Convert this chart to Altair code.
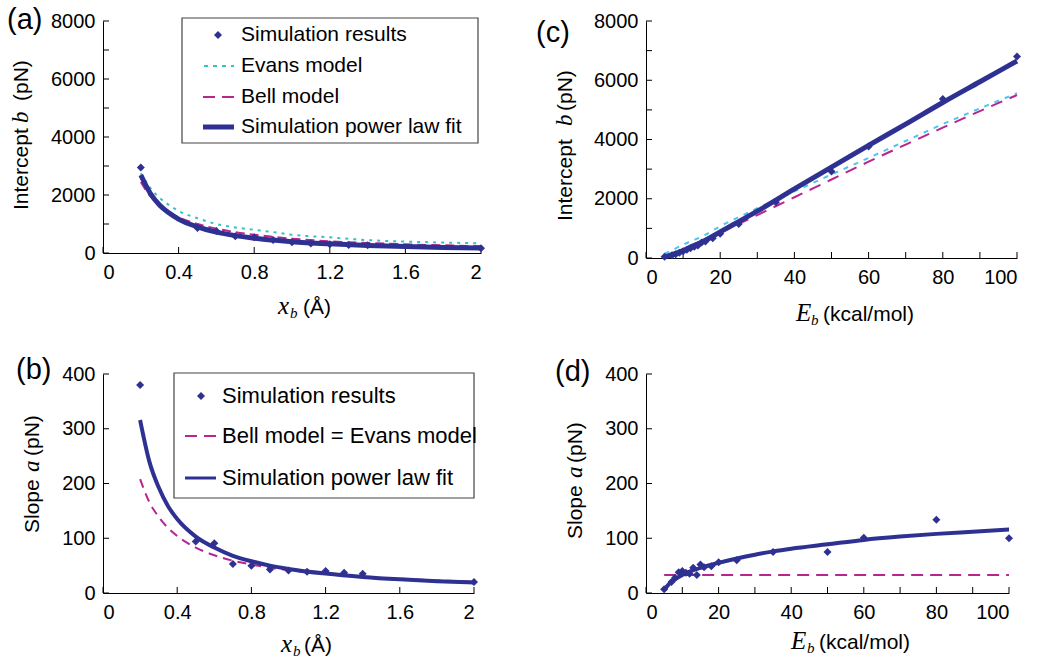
import altair as alt
import pandas as pd

# ---------------- data ----------------
# Panel (a): intercept b vs x_b
XB_SIM = [0.2, 0.5, 0.6, 0.7, 0.8, 0.9, 1.0, 1.1, 1.2, 1.3, 1.4, 2.0]
B_SIM_A = [2950, 860, 760, 580, 540, 450, 370, 330, 300, 280, 265, 165]
XB_CURVE = [0.2, 0.25, 0.3, 0.35, 0.4, 0.5, 0.6, 0.7, 0.8, 0.9, 1.0, 1.2, 1.4, 1.6, 1.8, 2.0]
FIT_A = [2690, 2060, 1650, 1380, 1170, 900, 720, 600, 510, 445, 390, 315, 260, 222, 193, 170]
BELL_A = [2450, 1960, 1640, 1400, 1230, 1000, 840, 720, 630, 555, 495, 405, 345, 300, 265, 235]
EVANS_A = [2750, 2250, 1900, 1650, 1450, 1200, 1000, 880, 800, 720, 630, 540, 445, 395, 360, 335]

# Panel (b): slope a vs x_b
A_SIM_B = [380, 94, 91, 53, 50, 43, 41, 39, 40, 37, 35, 20]
FIT_B = [316, 240, 193, 159, 135, 103, 83, 68, 58, 50, 44, 35.5, 29.4, 25, 21.6, 19]
BELL_B = [208, 166, 139, 119, 104, 83, 69, 59, 52, 46, 42, 35, 30, 26, 23, 21]

# Panel (c): intercept b vs E_b
EB_SIM = [5, 7, 8, 9, 10, 11, 12, 13, 14, 15, 16, 18, 20, 25, 35, 50, 60, 80, 100]
B_SIM_C = [40, 90, 130, 180, 230, 280, 330, 380, 420, 520, 560, 670, 820, 1150, 1880, 2920, 3760, 5370, 6800]
EB_CURVE = [5, 7, 10, 12, 15, 20, 25, 30, 40, 50, 60, 70, 80, 90, 100]
FIT_C = [40, 110, 250, 370, 530, 880, 1230, 1580, 2330, 3070, 3800, 4520, 5250, 5950, 6650]
EVANS_C = [150, 260, 450, 560, 720, 1070, 1380, 1680, 2250, 2820, 3380, 3950, 4520, 5050, 5560]
BELL_C = [20, 120, 290, 400, 570, 860, 1150, 1450, 2050, 2650, 3250, 3830, 4400, 4960, 5500]

# Panel (d): slope a vs E_b
A_SIM_D = [7, 20, 28, 38, 40, 37, 35, 46, 33, 52, 47, 49, 56, 60, 75, 75, 101, 134, 100]
EB_CURVE_D = [5, 6, 7, 8, 10, 12, 15, 20, 25, 30, 35, 40, 50, 60, 70, 80, 90, 100]
FIT_D = [5, 14, 20, 25, 33, 39, 46, 55, 63, 70, 76, 81, 89, 97, 103, 108, 112, 116]
EB_BELL_D = [5, 100]
BELL_D = [33, 33]

# axis ticks / labels
XB_LABELS = [0, 0.4, 0.8, 1.2, 1.6, 2]
XB_TICKS = [0, 0.4, 0.8, 1.2, 1.6, 2]
EB_LABELS = [0, 20, 40, 60, 80, 100]
EB_TICKS = [0, 10, 20, 30, 40, 50, 60, 70, 80, 90, 100]
B_LABELS = [0, 2000, 4000, 6000, 8000]
B_TICKS = [0, 1000, 2000, 3000, 4000, 5000, 6000, 7000, 8000]
A_LABELS = [0, 100, 200, 300, 400]
A_TICKS = [0, 100, 200, 300, 400]

# ---------------- styling ----------------
SANS = "Liberation Sans"
SERIF = "Liberation Serif"
BLUE = "#2E3192"
CYAN_A = "#33C2C2"
CYAN_C = "#4CC6EE"
MAG = "#B8258E"
AX = "#000000"
ONE = alt.Data(values=[{"k": 1}])
LABEL_EXPR = "'' + datum.value"


def xenc(dom, vals):
    return alt.X("x:Q", scale=alt.Scale(domain=dom, nice=False, zero=False),
                 axis=alt.Axis(values=vals, labelExpr=LABEL_EXPR, title=None, ticks=False, grid=False,
                               labelPadding=9, domainColor=AX, domainWidth=1,
                               labelFontSize=20, labelFont=SANS, labelColor=AX))


def yenc(dom, vals):
    return alt.Y("y:Q", scale=alt.Scale(domain=dom, nice=False, zero=False),
                 axis=alt.Axis(values=vals, labelExpr=LABEL_EXPR, title=None, ticks=False, grid=False,
                               labelPadding=8, domainColor=AX, domainWidth=1,
                               labelFontSize=20, labelFont=SANS, labelColor=AX))


def txt(s, x, y, size=21, font=SANS, style="normal", angle=0, align="left",
        baseline="alphabetic", color="#000"):
    return alt.Chart(ONE).mark_text(text=s, fontSize=size, font=font, fontStyle=style,
                                    angle=angle, align=align, baseline=baseline,
                                    color=color).encode(x=alt.value(x), y=alt.value(y))


def ticks(xdom, ydom, xl, yl, xt, yt, H):
    X = xenc(xdom, xl)
    Y = yenc(ydom, yl)
    ty = alt.Chart(pd.DataFrame({"y": yt})).mark_rule(color=AX, strokeWidth=1).encode(
        y=Y, x=alt.value(0), x2=alt.value(6))
    tx = alt.Chart(pd.DataFrame({"x": xt})).mark_rule(color=AX, strokeWidth=1).encode(
        x=X, y=alt.value(H), y2=alt.value(H - 6))
    return [ty, tx]


def line(xs, ys, X, Y, color, width, dash=None):
    kw = dict(color=color, strokeWidth=width, interpolate="monotone")
    if dash:
        kw["strokeDash"] = dash
    return alt.Chart(pd.DataFrame({"x": xs, "y": ys})).mark_line(**kw).encode(x=X, y=Y)


def points(xs, ys, X, Y):
    return alt.Chart(pd.DataFrame({"x": xs, "y": ys})).mark_point(
        shape="diamond", filled=True, size=64, color=BLUE, opacity=1).encode(x=X, y=Y)


def xtitle(main, rest, x0, H, off, sub_dx, rest_dx):
    return [
        txt(main, x0, H + off, size=25, font=SERIF, style="italic"),
        txt("b", x0 + sub_dx, H + off + 4, size=15, font=SERIF, style="italic"),
        txt(rest, x0 + rest_dx, H + off, size=21),
    ]


def ytitle(word, letter, xb, y_word, y_letter, y_rest):
    return [
        txt(word, xb, y_word, size=21, angle=270),
        txt(letter, xb, y_letter, size=23, font=SERIF, style="italic", angle=270),
        txt("(pN)", xb, y_rest, size=21, angle=270),
    ]


# ---------------- panel (a) ----------------
WA, HA = 378, 232
Xa = xenc([0, 2], XB_LABELS)
Ya = yenc([0, 8000], B_LABELS)
layers_a = ticks([0, 2], [0, 8000], XB_LABELS, B_LABELS, XB_TICKS, B_TICKS, HA) + [
    line(XB_CURVE, EVANS_A, Xa, Ya, CYAN_A, 2, [3, 5]),
    line(XB_CURVE, BELL_A, Xa, Ya, MAG, 2, [9, 5]),
    points(XB_SIM, B_SIM_A, Xa, Ya),
    line(XB_CURVE, FIT_A, Xa, Ya, BLUE, 5),
    alt.Chart(ONE).mark_rect(fill="white", stroke="#444", strokeWidth=1.2).encode(
        x=alt.value(79), x2=alt.value(375), y=alt.value(-3), y2=alt.value(122)),
    alt.Chart(ONE).mark_point(shape="diamond", filled=True, size=64, color=BLUE, opacity=1).encode(
        x=alt.value(115), y=alt.value(14)),
    alt.Chart(ONE).mark_rule(color=CYAN_A, strokeWidth=2, strokeDash=[4, 5]).encode(
        x=alt.value(101), x2=alt.value(131), y=alt.value(45)),
    alt.Chart(ONE).mark_rule(color=MAG, strokeWidth=2, strokeDash=[12, 7]).encode(
        x=alt.value(100), x2=alt.value(131), y=alt.value(76)),
    alt.Chart(ONE).mark_rule(color=BLUE, strokeWidth=5).encode(
        x=alt.value(100), x2=alt.value(131), y=alt.value(106)),
    txt("Simulation results", 138, 14, baseline="middle"),
    txt("Evans model", 138, 45, baseline="middle"),
    txt("Bell model", 138, 76, baseline="middle"),
    txt("Simulation power law fit", 138, 106, baseline="middle"),
    txt("(a)", -96, 8, size=29),
] + xtitle("x", "(Å)", 175, HA, 61, 12, 25) + ytitle("Intercept", "b", -75, 189, 102, 80)
panel_a = alt.layer(*layers_a).properties(width=WA, height=HA)

# ---------------- panel (c) ----------------
WC, HC = 371, 237
Xc = xenc([0, 100], EB_LABELS)
Yc = yenc([0, 8000], B_LABELS)
layers_c = ticks([0, 100], [0, 8000], EB_LABELS, B_LABELS, EB_TICKS, B_TICKS, HC) + [
    line(EB_CURVE, EVANS_C, Xc, Yc, CYAN_C, 2, [5, 6]),
    line(EB_CURVE, BELL_C, Xc, Yc, MAG, 2, [12, 8]),
    points(EB_SIM, B_SIM_C, Xc, Yc),
    line(EB_CURVE, FIT_C, Xc, Yc, BLUE, 5),
    txt("(c)", -110, 21, size=29),
] + xtitle("E", "(kcal/mol)", 150, HC, 63, 15, 27) + ytitle("Intercept", "b", -74, 200, 105, 90)
panel_c = alt.layer(*layers_c).properties(width=WC, height=HC)

# ---------------- panel (b) ----------------
WB, HB = 371, 219
Xb = xenc([0, 2], XB_LABELS)
Yb = yenc([0, 400], A_LABELS)
layers_b = ticks([0, 2], [0, 400], XB_LABELS, A_LABELS, XB_TICKS, A_TICKS, HB) + [
    line(XB_CURVE, BELL_B, Xb, Yb, MAG, 2, [9, 6]),
    points(XB_SIM, A_SIM_B, Xb, Yb),
    line(XB_CURVE, FIT_B, Xb, Yb, BLUE, 4),
    alt.Chart(ONE).mark_rect(fill="white", stroke="#444", strokeWidth=1.2).encode(
        x=alt.value(71), x2=alt.value(371), y=alt.value(-1), y2=alt.value(124)),
    alt.Chart(ONE).mark_point(shape="diamond", filled=True, size=64, color=BLUE, opacity=1).encode(
        x=alt.value(98), y=alt.value(22)),
    alt.Chart(ONE).mark_rule(color=MAG, strokeWidth=2, strokeDash=[12, 7]).encode(
        x=alt.value(82), x2=alt.value(113), y=alt.value(62)),
    alt.Chart(ONE).mark_rule(color=BLUE, strokeWidth=3).encode(
        x=alt.value(82), x2=alt.value(113), y=alt.value(104)),
    txt("Simulation results", 119, 22, size=22, baseline="middle"),
    txt("Bell model = Evans model", 119, 62, size=22, baseline="middle"),
    txt("Simulation power law fit", 119, 104, size=22, baseline="middle"),
    txt("(b)", -87, 5, size=29),
] + xtitle("x", "(Å)", 178, HB, 59, 12, 23) + ytitle("Slope", "a", -64, 159, 98, 82)
panel_b = alt.layer(*layers_b).properties(width=WB, height=HB)

# ---------------- panel (d) ----------------
WD, HD = 363, 219
Xd = xenc([0, 100], EB_LABELS)
Yd = yenc([0, 400], A_LABELS)
layers_d = ticks([0, 100], [0, 400], EB_LABELS, A_LABELS, EB_TICKS, A_TICKS, HD) + [
    line(EB_BELL_D, BELL_D, Xd, Yd, MAG, 2, [12, 7]),
    points(EB_SIM, A_SIM_D, Xd, Yd),
    line(EB_CURVE_D, FIT_D, Xd, Yd, BLUE, 4),
    txt("(d)", -91, 7, size=29),
] + xtitle("E", "(kcal/mol)", 145, HD, 56, 16, 28) + ytitle("Slope", "a", -64, 165, 104, 89)
panel_d = alt.layer(*layers_d).properties(width=WD, height=HD)

chart = alt.concat(panel_a, panel_c, panel_b, panel_d, columns=2,
                   spacing=alt.RowColnumber(row=116, column=165),
                   bounds="flush", align="each").properties(
    padding={"left": 7, "top": 6, "right": 0, "bottom": 0}
).configure_view(strokeWidth=0)

chart.save("out.html", embed_options={"renderer": "svg", "actions": False})
